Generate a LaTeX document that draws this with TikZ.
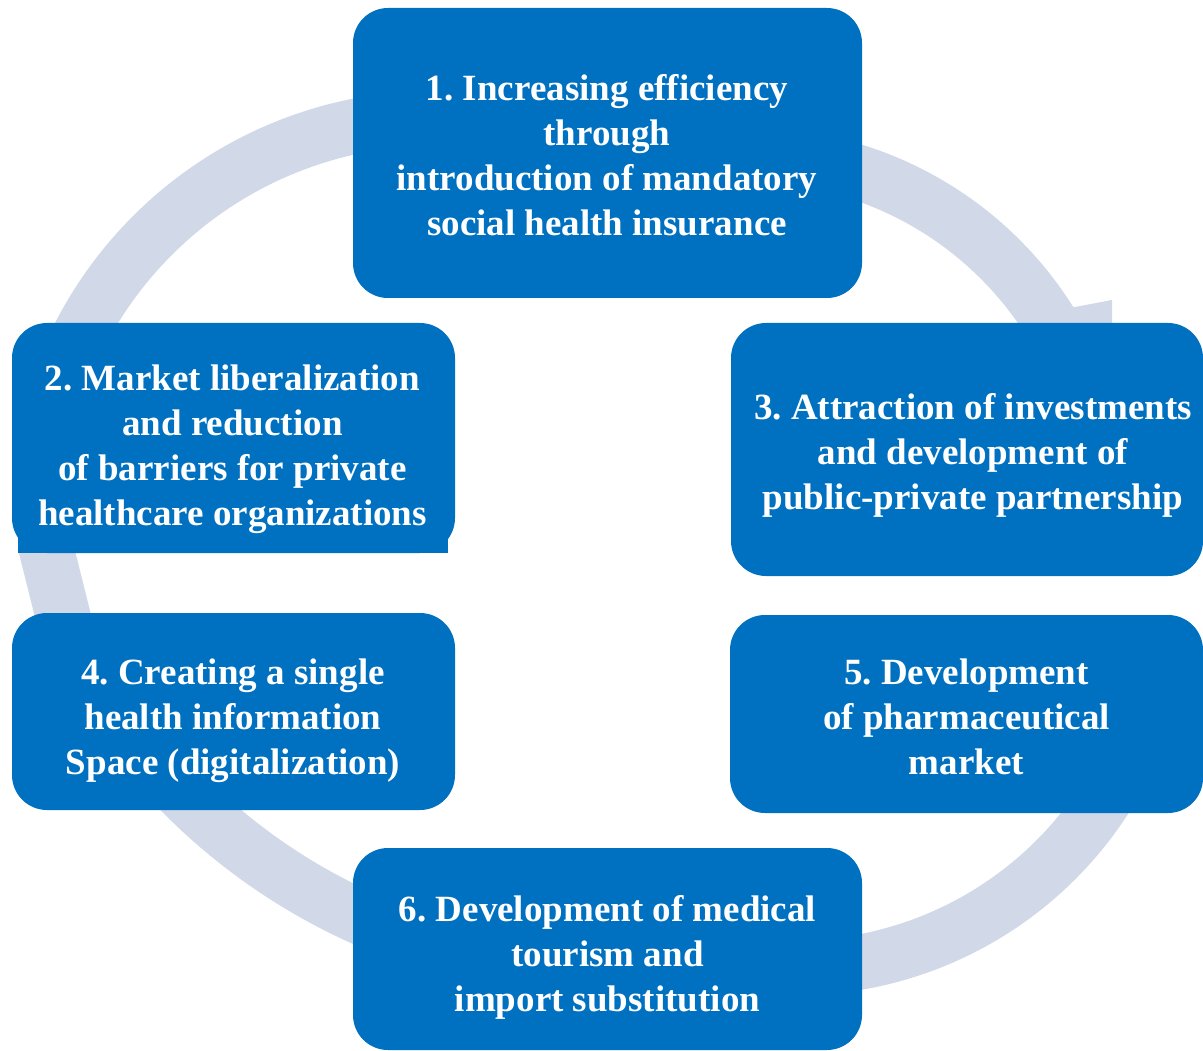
\documentclass[tikz,border=0pt]{standalone}
\usepackage{fontspec}
\setmainfont{Liberation Serif}
\definecolor{boxblue}{RGB}{0,112,192}
\definecolor{ringgray}{RGB}{209,216,232}
\begin{document}
\begin{tikzpicture}[x=1pt,y=-1pt,
  box/.style={fill=boxblue, rounded corners=35pt, inner sep=0pt},
  lbl/.style={text=white, align=center, inner sep=0pt, anchor=north,
              font=\fontsize{37}{45}\selectfont\bfseries\frenchspacing},
  band/.style={draw=ringgray, line width=55pt}]
\clip (0,0) rectangle (1203,1051);

% --- cycle ring, drawn as separate arc segments behind the boxes ---
% 2 -> 1
\draw[band] plot[domain=200:265,samples=60] ({436+401*cos(\x)},{519+401*sin(\x)});
% 1 -> 3, with its arrow head
\draw[band] plot[domain=275:333,samples=60] ({748.5+356*cos(\x)},{511+356*sin(\x)});
\fill[ringgray] (1030,300) -- (1075,307) -- (1112,300) -- (1112,380) -- (1030,380) -- cycle;
% 5 -> 6
\draw[band] plot[domain=25:90,samples=60] ({794.6+369.5*cos(\x)},{598.5+369.5*sin(\x)});
% 6 -> 4
\draw[band] plot[domain=110:137,samples=40] ({608.7+600*cos(\x)},{371+600*sin(\x)});
% 4 -> 2
\begin{scope}
  \clip (0,548) rectangle (140,616);
  \draw[band] (43.5,538) -- (64.5,622);
\end{scope}

% --- boxes ---
\node[box, minimum width=509, minimum height=290] (b1) at (607.5,153) {};
\node[box, minimum width=443, minimum height=230] (b2) at (233.5,438) {};
\fill[boxblue] ([xshift=6pt]b2.south west) rectangle ([xshift=-7pt,yshift=33pt]b2.south east);
\node[box, minimum width=472, minimum height=253] (b3) at (967,449.5) {};
\node[box, minimum width=443, minimum height=197] (b4) at (233.5,711.5) {};
\node[box, minimum width=473, minimum height=198] (b5) at (966.5,714) {};
\node[box, minimum width=509, minimum height=202] (b6) at (607.5,949) {};

% --- labels ---
\node[lbl] (t1) at (607,68.5) {\strut 1. Increasing efficiency\\through\\introduction of mandatory\\social health insurance};
\node[lbl] (t2) at (232.5,358.5) {\strut 2. Market liberalization\\and reduction\\of barriers for private\\healthcare organizations};
\node[lbl] (t3) at (973,387.5) {\strut 3. Attraction of investments\\and development of\\public-private partnership};
\node[lbl] (t4) at (233,652.5) {\strut 4. Creating a single\\health information\\Space (digitalization)};
\node[lbl] (t5) at (966.5,652.5) {\strut 5. Development\\of pharmaceutical\\market};
\node[lbl] (t6) at (607.5,889.5) {\strut 6. Development of medical\\tourism and\\import substitution};
\end{tikzpicture}
\end{document}
